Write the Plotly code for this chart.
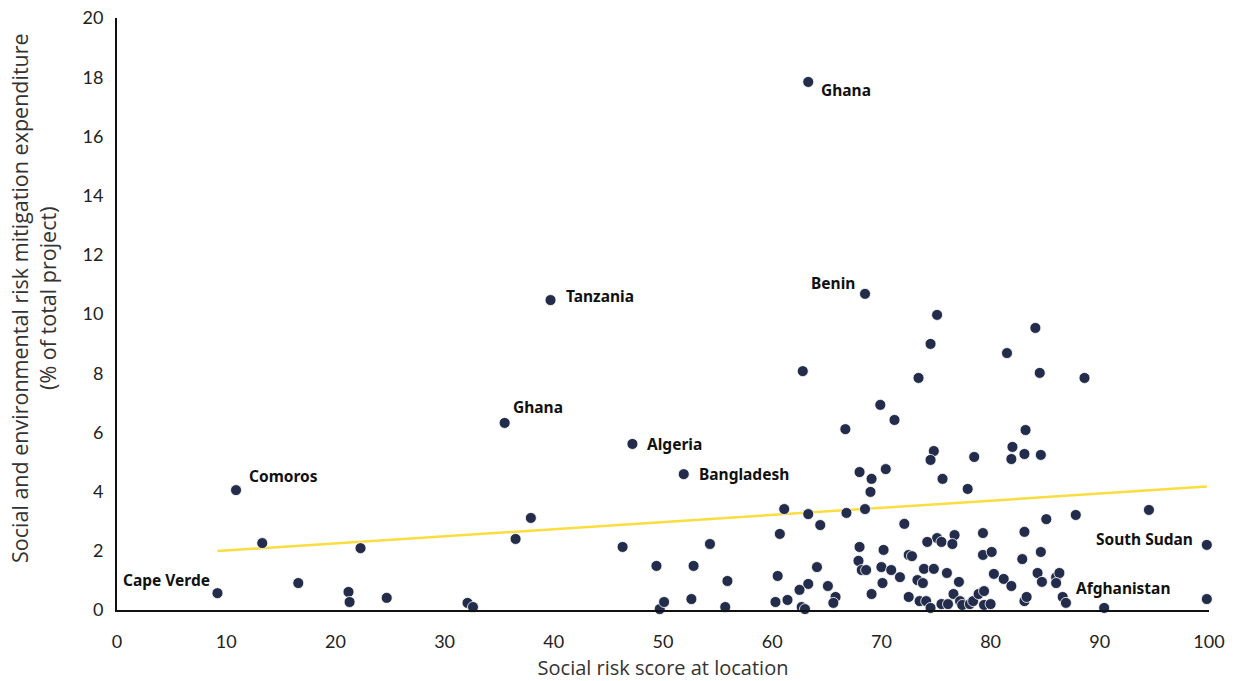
import plotly.graph_objects as go

# Labeled points
label_names = ["Ghana", "Tanzania", "Benin", "Ghana", "Algeria", "Bangladesh",
               "Comoros", "Cape Verde", "South Sudan", "Afghanistan"]
label_x = [63.3, 39.7, 68.5, 35.5, 47.2, 51.9, 10.9, 9.2, 99.8, 90.4]
label_y = [17.84, 10.47, 10.68, 6.32, 5.61, 4.59, 4.05, 0.57, 2.2, 0.07]

# Unlabeled points
pts_x = [99.8, 13.3, 16.6, 21.2, 21.3, 22.3, 24.7, 32.1, 32.6, 36.5, 37.9,
         46.3, 49.4, 49.7, 50.1, 52.8, 52.6, 54.3, 55.9, 55.7,
         61.1, 63.3, 66.8, 68.5, 72.1, 60.7, 64.4, 68.0, 70.2, 60.5, 64.1,
         67.9, 68.2, 68.6, 70.0, 70.9, 71.7, 63.3, 62.5, 65.1, 70.1, 69.1,
         61.4, 60.3, 65.8, 65.6, 62.7, 63.0, 72.5, 72.5,
         75.1, 84.1, 74.5, 81.5, 62.8, 73.4, 84.5, 88.6, 69.9, 71.2, 66.7,
         83.2, 82.0, 74.8, 83.1, 84.6, 81.9, 74.5, 78.5, 68.0, 70.4, 69.1,
         69.0, 75.6, 77.9,
         94.5, 87.8, 85.1, 83.1, 79.3, 76.7, 75.1, 74.2, 75.5, 76.5, 72.8,
         79.3, 80.1, 84.6, 82.9, 73.9, 74.8, 76.0, 80.3, 81.2, 81.9, 84.3,
         84.7, 86.0, 86.3, 86.0, 73.3, 73.8, 77.1, 73.5, 74.1, 74.5, 75.5,
         76.1, 76.6, 77.2, 77.4, 78.1, 78.4, 78.9, 79.4, 79.4, 80.0, 83.1,
         83.3, 86.6, 86.9]
pts_y = [0.37, 2.26, 0.91, 0.61, 0.27, 2.09, 0.41, 0.24, 0.10, 2.40, 3.11,
         2.13, 1.49, 0.03, 0.27, 1.49, 0.37, 2.23, 0.98, 0.10,
         3.41, 3.24, 3.28, 3.41, 2.91, 2.57, 2.87, 2.13, 2.03, 1.15, 1.45,
         1.66, 1.35, 1.35, 1.45, 1.35, 1.11, 0.88, 0.68, 0.81, 0.91, 0.54,
         0.34, 0.27, 0.44, 0.24, 0.10, 0.03, 0.44, 1.86,
         9.97, 9.53, 8.99, 8.68, 8.07, 7.84, 8.01, 7.84, 6.93, 6.42, 6.11,
         6.08, 5.51, 5.37, 5.27, 5.24, 5.10, 5.07, 5.17, 4.66, 4.76, 4.43,
         3.99, 4.43, 4.09,
         3.38, 3.21, 3.07, 2.64, 2.60, 2.53, 2.43, 2.30, 2.30, 2.23, 1.82,
         1.86, 1.96, 1.96, 1.72, 1.39, 1.39, 1.25, 1.22, 1.05, 0.81, 1.25,
         0.95, 1.11, 1.25, 0.91, 1.01, 0.91, 0.95, 0.30, 0.30, 0.07, 0.20,
         0.20, 0.54, 0.30, 0.17, 0.20, 0.30, 0.54, 0.64, 0.17, 0.20, 0.30,
         0.44, 0.44, 0.24]

# Trend line
trend_x = [9.2, 99.8]
trend_y = [1.99, 4.17]

x_ticks = [0, 10, 20, 30, 40, 50, 60, 70, 80, 90, 100]
y_ticks = [0, 2, 4, 6, 8, 10, 12, 14, 16, 18, 20]

x_title = "Social risk score at location"
y_title = "Social and environmental risk mitigation expenditure<br>(% of total project)"

# label offsets (pixels): xshift, yshift, xanchor
label_pos = [
    (11, -8, "left"), (13, 4, "left"), (-8, 11, "right"), (6, 16, "left"),
    (13, 0, "left"), (13, 0, "left"), (11, 14, "left"), (-5, 13, "right"),
    (-12, 6, "right"), (19, 20, "center"),
]

dot = "#232D4B"
fig = go.Figure()
fig.add_trace(go.Scatter(x=trend_x, y=trend_y, mode="lines",
                         line=dict(color="#FBDD3F", width=2.5),
                         hoverinfo="skip", showlegend=False))
fig.add_trace(go.Scatter(x=pts_x + label_x, y=pts_y + label_y, mode="markers",
                         marker=dict(color=dot, size=11,
                                     line=dict(width=0.8, color="white")),
                         cliponaxis=False, showlegend=False))

for name, x, y, (xs, ys, xa) in zip(label_names, label_x, label_y, label_pos):
    fig.add_annotation(x=x, y=y, text="<b>" + name + "</b>", showarrow=False,
                       xanchor=xa, yanchor="middle", xshift=xs, yshift=ys,
                       font=dict(family="Noto Sans", size=15.5, color="#111111"))

# y-axis title as rotated annotation
fig.add_annotation(xref="paper", yref="paper", x=0, y=0.5, xanchor="center",
                   yanchor="middle", xshift=-84, yshift=16, textangle=-90,
                   text=y_title, showarrow=False,
                   font=dict(family="Open Sans", size=21.5, color="#333333"))

fig.update_layout(
    width=1235, height=681,
    margin=dict(l=117, r=26, t=18, b=71),
    paper_bgcolor="white", plot_bgcolor="white",
    font=dict(family="Open Sans", color="#222222"),
    xaxis=dict(range=[0, 100], tickvals=x_ticks, showgrid=False, zeroline=False,
               showline=True, linecolor="#111111", linewidth=2, automargin=False,
               ticks="", ticklabelstandoff=14, ticklabeloverflow="allow",
               tickfont=dict(family="Lato", size=18, color="#222222"),
               title=dict(text=x_title,
                          font=dict(family="Open Sans", size=20, color="#333333"),
                          standoff=17)),
    yaxis=dict(range=[0, 20], tickvals=y_ticks, showgrid=False, zeroline=False,
               showline=True, linecolor="#111111", linewidth=2, automargin=False,
               ticks="", ticklabelstandoff=8, ticklabeloverflow="allow",
               tickfont=dict(family="Lato", size=18, color="#222222")),
)

# remove the default page body margin so the figure fills the window exactly
fig.write_html("out.html", config={"displayModeBar": False},
               post_script="document.body.style.margin='0';")
